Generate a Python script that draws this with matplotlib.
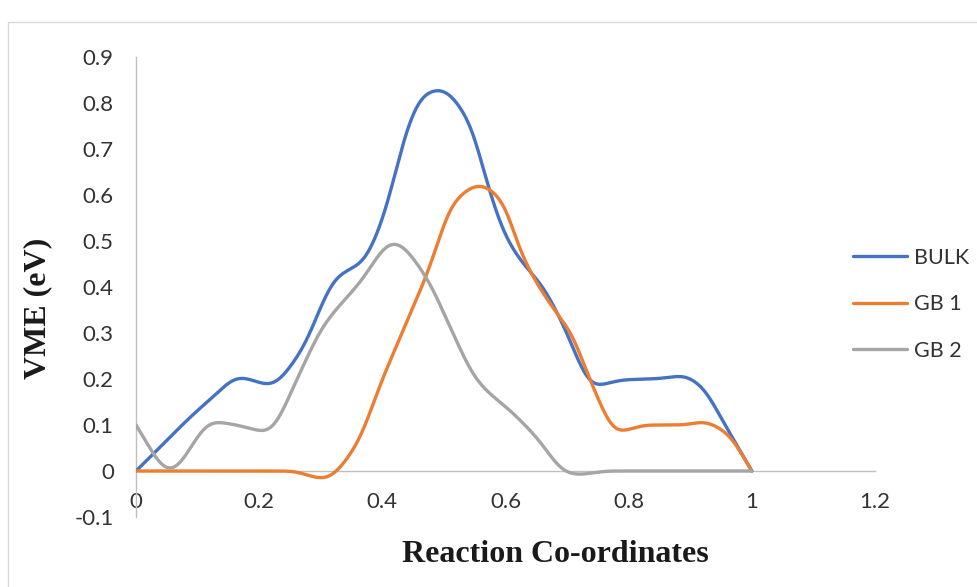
import numpy as np
import matplotlib
matplotlib.use("Agg")
import matplotlib.pyplot as plt
from matplotlib.patches import Rectangle

# Reaction coordinate / VME values for each structure
bulk_x = [0.0, 0.12, 0.169, 0.217, 0.266, 0.326, 0.369, 0.40, 0.445, 0.466,
          0.493, 0.542, 0.57, 0.60, 0.628, 0.661, 0.693, 0.745, 0.79, 0.85,
          0.888, 0.916, 0.959, 1.0]
bulk_y = [0.0, 0.155, 0.204, 0.187, 0.256, 0.422, 0.456, 0.545, 0.763, 0.817,
          0.83, 0.757, 0.626, 0.51, 0.452, 0.40, 0.32, 0.185, 0.198, 0.201,
          0.207, 0.187, 0.094, 0.0]

gb1_x = [0.0, 0.25, 0.305, 0.356, 0.40, 0.445, 0.477, 0.515, 0.558, 0.597,
         0.623, 0.683, 0.704, 0.742, 0.782, 0.83, 0.888, 0.92, 0.959, 1.0]
gb1_y = [0.0, 0.0, -0.017, 0.052, 0.20, 0.34, 0.443, 0.583, 0.622, 0.583,
         0.48, 0.343, 0.307, 0.183, 0.085, 0.10, 0.10, 0.107, 0.083, 0.0]

gb2_x = [0.0, 0.055, 0.125, 0.17, 0.212, 0.266, 0.30, 0.364, 0.418, 0.472,
         0.51, 0.553, 0.612, 0.65, 0.70, 0.715, 0.77, 1.0]
gb2_y = [0.10, 0.0, 0.107, 0.098, 0.085, 0.213, 0.307, 0.41, 0.498, 0.42,
         0.313, 0.198, 0.126, 0.074, -0.004, -0.008, 0.0, 0.0]

series_names = ["BULK", "GB 1", "GB 2"]
series_colors = ["#4472C4", "#ED7D31", "#A5A5A5"]

x_ticks = [0, 0.2, 0.4, 0.6, 0.8, 1, 1.2]
x_tick_labels = ["0", "0.2", "0.4", "0.6", "0.8", "1", "1.2"]
y_ticks = [-0.1, 0, 0.1, 0.2, 0.3, 0.4, 0.5, 0.6, 0.7, 0.8, 0.9]
y_tick_labels = ["-0.1", "0", "0.1", "0.2", "0.3", "0.4", "0.5", "0.6", "0.7", "0.8", "0.9"]


def pchip(xs, ys, xq):
    """Shape-preserving piecewise cubic interpolation evaluated at xq."""
    x = np.asarray(xs, float)
    y = np.asarray(ys, float)
    h = np.diff(x)
    d = np.diff(y) / h
    m = np.zeros_like(y)
    m[0], m[-1] = d[0], d[-1]
    for k in range(1, len(x) - 1):
        if d[k - 1] * d[k] > 0:
            w1 = 2 * h[k] + h[k - 1]
            w2 = h[k] + 2 * h[k - 1]
            m[k] = (w1 + w2) / (w1 / d[k - 1] + w2 / d[k])
    idx = np.clip(np.searchsorted(x, xq, side="right") - 1, 0, len(x) - 2)
    t = (xq - x[idx]) / h[idx]
    hh = h[idx]
    return ((2 * t ** 3 - 3 * t ** 2 + 1) * y[idx]
            + (t ** 3 - 2 * t ** 2 + t) * hh * m[idx]
            + (-2 * t ** 3 + 3 * t ** 2) * y[idx + 1]
            + (t ** 3 - t ** 2) * hh * m[idx + 1])


def smooth_curve(xs, ys, step=0.001, sigma=0.011):
    """Dense PCHIP curve, lightly rounded with a Gaussian kernel."""
    xq = np.arange(xs[0], xs[-1] + step / 2, step)
    yq = pchip(xs, ys, xq)
    r = int(4 * sigma / step)
    k = np.exp(-0.5 * (np.arange(-r, r + 1) * step / sigma) ** 2)
    k /= k.sum()
    left = 2 * yq[0] - yq[r:0:-1]
    right = 2 * yq[-1] - yq[-2:-r - 2:-1]
    ys_s = np.convolve(np.concatenate([left, yq, right]), k, mode="valid")
    return xq, ys_s


fig = plt.figure(figsize=(9.78, 5.87), dpi=100)
fig.patch.set_facecolor("white")

# light chart frame
fig.add_artist(Rectangle((8 / 978, -0.2), 1.2, 1.2 - 22 / 587,
                         transform=fig.transFigure, fill=False,
                         edgecolor="#D9D9D9", linewidth=1.0))

ax = fig.add_axes([136 / 978, 1 - 517 / 587, (875 - 136) / 978, (517 - 57) / 587])
ax.set_facecolor("none")

for xs, ys, name, col in zip([bulk_x, gb1_x, gb2_x], [bulk_y, gb1_y, gb2_y],
                             series_names, series_colors):
    sx, sy = smooth_curve(xs, ys)
    ax.plot(sx, sy, color=col, linewidth=2.4, label=name,
            solid_capstyle="round", solid_joinstyle="round", zorder=3)

ax.set_xlim(0, 1.2)
ax.set_ylim(-0.1, 0.9)

for s in ["top", "right"]:
    ax.spines[s].set_visible(False)
ax.spines["bottom"].set_position(("data", 0))
ax.spines["left"].set_position(("data", 0))
for s in ["bottom", "left"]:
    ax.spines[s].set_color("#BFBFBF")
    ax.spines[s].set_linewidth(1.0)

tick_font = {"family": "Lato", "size": 16, "color": "#333333"}
ax.set_xticks(x_ticks)
ax.set_xticklabels(x_tick_labels, fontdict=tick_font)
ax.set_yticks(y_ticks)
ax.set_yticklabels(y_tick_labels, fontdict=tick_font)
ax.tick_params(axis="x", length=0, pad=15)
ax.tick_params(axis="y", length=0, pad=16)

fig.text(555 / 978, 1 - 555 / 587, "Reaction Co-ordinates",
         family="Liberation Serif", fontweight="bold", fontsize=23,
         color="#1A1A1A", ha="center", va="center")
fig.text(38 / 978, 1 - 308 / 587, "VME (eV)", rotation=90,
         family="Liberation Serif", fontweight="bold", fontsize=23,
         color="#1A1A1A", ha="center", va="center")

leg = ax.legend(loc="upper left", bbox_to_anchor=(853 / 978, 1 - 248 / 587),
                bbox_transform=fig.transFigure, frameon=False,
                prop={"family": "Lato", "size": 15.5}, handlelength=2.5,
                handletextpad=0.35, labelspacing=1.22, borderaxespad=0,
                borderpad=0)
for txt in leg.get_texts():
    txt.set_color("#333333")

fig.savefig("out.png", dpi=100, facecolor="white")
